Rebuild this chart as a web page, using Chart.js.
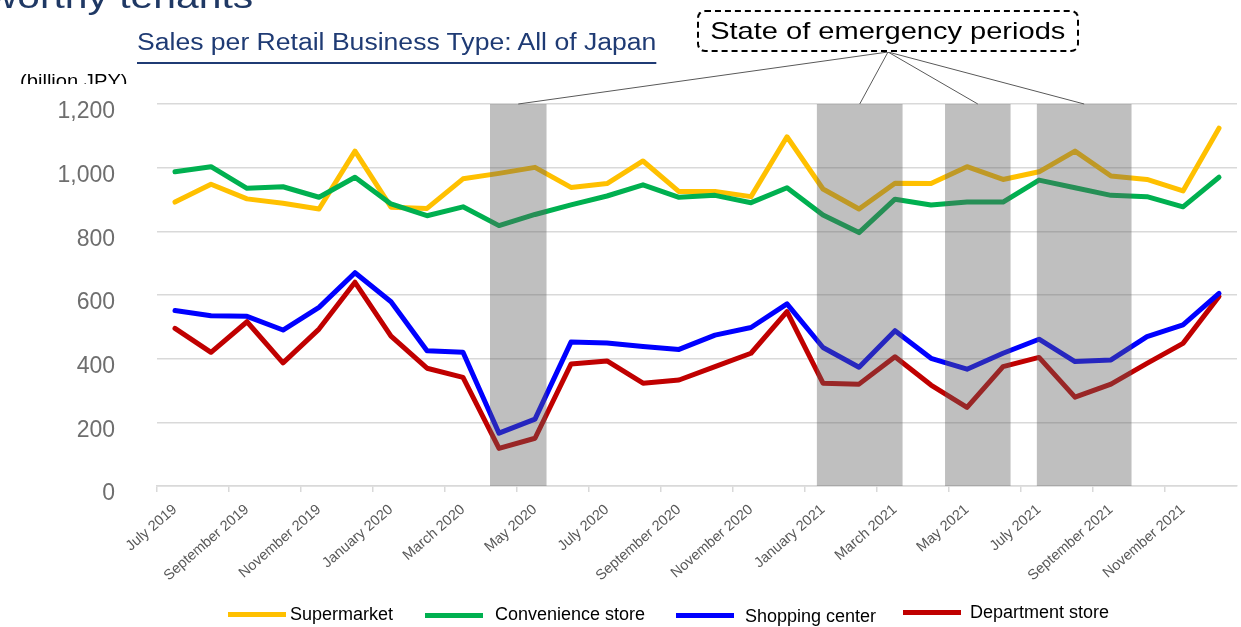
<!DOCTYPE html>
<html>
<head>
<meta charset="utf-8">
<script src="https://cdn.jsdelivr.net/npm/chart.js"></script>
<style>
  body { margin: 0; background: #fff; font-family: "Liberation Sans", Arial, sans-serif; }
  #wrap { position: relative; width: 1241px; height: 627px; overflow: hidden; }
  #chart { position: absolute; left: 0; top: 0; }
  .abs { position: absolute; white-space: nowrap; line-height: 1; }
  #heading { right: 988px; top: -21px; font-size: 34px; color: #1f3864; transform: scaleX(1.2); transform-origin: right top; }
  #title { left: 137px; top: 31px; font-size: 23px; color: #1f3b74; transform: scaleX(1.155); transform-origin: left top;
           text-decoration: underline; text-underline-offset: 12px; text-decoration-thickness: 1.5px; }
  #unitClip { position: absolute; left: 0; top: 60px; width: 160px; height: 24px; overflow: hidden; }
  #unit { left: 20px; top: 12px; font-size: 18px; color: #000; transform: scaleX(1.12); transform-origin: left top; }
  #callout { position: absolute; left: 697px; top: 10px; width: 382px; height: 42px; box-sizing: border-box;
             border: 2px dashed #000; border-radius: 8px; background: #fff;
             display: flex; align-items: center; justify-content: center; }
  #callout span { font-size: 24px; line-height: 1; transform: scaleX(1.21); display: inline-block; }
  .swatch { position: absolute; height: 5px; width: 58px; }
  .legtext { position: absolute; font-size: 18px; line-height: 1; color: #000; white-space: nowrap; }
</style>
</head>
<body>
<div id="wrap">
  <canvas id="chart" width="1241" height="627"></canvas>
  <div class="abs" id="heading">worthy tenants</div>
  <div class="abs" id="title">Sales per Retail Business Type: All of Japan</div>
  <div id="unitClip"><div class="abs" id="unit">(billion JPY)</div></div>
  <div id="callout"><span>State of emergency periods</span></div>

  <div class="swatch" style="left:228px;top:612px;background:#FFC000"></div>
  <div class="legtext" style="left:290px;top:605px">Supermarket</div>
  <div class="swatch" style="left:425px;top:613px;background:#00B050"></div>
  <div class="legtext" style="left:495px;top:605px">Convenience store</div>
  <div class="swatch" style="left:676px;top:613px;background:#0000FF"></div>
  <div class="legtext" style="left:745px;top:607px">Shopping center</div>
  <div class="swatch" style="left:903px;top:610px;background:#C00000"></div>
  <div class="legtext" style="left:970px;top:603px">Department store</div>
</div>

<script>
// monthly sales, billion JPY (July 2019 - December 2021)
const months = [
  'July 2019', 'August 2019', 'September 2019', 'October 2019', 'November 2019', 'December 2019',
  'January 2020', 'February 2020', 'March 2020', 'April 2020', 'May 2020', 'June 2020',
  'July 2020', 'August 2020', 'September 2020', 'October 2020', 'November 2020', 'December 2020',
  'January 2021', 'February 2021', 'March 2021', 'April 2021', 'May 2021', 'June 2021',
  'July 2021', 'August 2021', 'September 2021', 'October 2021', 'November 2021', 'December 2021'
];
const supermarket = [892, 948, 902, 888, 870, 1052, 876, 872, 965, 982, 1001, 938, 950, 1021, 925,
                     925, 909, 1097, 933, 870, 951, 950, 1003, 963, 987, 1052, 974, 963, 927, 1124];
const convenience = [987, 1003, 935, 940, 907, 970, 886, 849, 877, 818, 853, 883, 911, 946, 907,
                     913, 890, 937, 851, 796, 901, 883, 892, 892, 961, 937, 913, 909, 877, 970];
const shopping = [551, 535, 533, 490, 561, 670, 579, 425, 420, 166, 210, 452, 449, 438, 429,
                  474, 498, 572, 435, 373, 488, 401, 367, 417, 461, 391, 396, 469, 506, 605];
const department = [495, 420, 516, 387, 493, 640, 471, 370, 341, 118, 150, 383, 393, 323, 333,
                    375, 417, 548, 323, 320, 406, 317, 247, 375, 404, 279, 320, 385, 448, 595];

// state of emergency periods, in month-index units (0 = July 2019, fractions = part of the month)
const emergencyStart = [8.75, 17.83, 21.39, 23.94];
const emergencyEnd = [10.32, 20.21, 23.21, 26.57];

// where the callout's connector lines start (bottom of the dashed box)
const calloutAnchor = { x: 888, y: 52 };

// grey bands over the emergency months, plus the lines up to the callout
const emergencyShade = {
  id: 'emergencyShade',
  afterDatasetsDraw(chart) {
    const { ctx, chartArea, scales } = chart;
    const x = scales.x;
    ctx.save();
    ctx.fillStyle = 'rgba(96, 96, 96, 0.4)';
    for (let i = 0; i < emergencyStart.length; i++) {
      const x1 = x.getPixelForValue(emergencyStart[i]);
      const x2 = x.getPixelForValue(emergencyEnd[i]);
      ctx.fillRect(x1, chartArea.top, x2 - x1, chartArea.bottom - chartArea.top);
    }
    ctx.strokeStyle = '#595959';
    ctx.lineWidth = 1;
    for (let i = 0; i < emergencyStart.length; i++) {
      const mid = (x.getPixelForValue(emergencyStart[i]) + x.getPixelForValue(emergencyEnd[i])) / 2;
      ctx.beginPath();
      ctx.moveTo(calloutAnchor.x, calloutAnchor.y);
      ctx.lineTo(mid, chartArea.top);
      ctx.stroke();
    }
    ctx.restore();
  }
};

const ctx = document.getElementById('chart').getContext('2d');
new Chart(ctx, {
  type: 'line',
  data: {
    labels: months,
    datasets: [
      { label: 'Supermarket', data: supermarket, borderColor: '#FFC000', backgroundColor: '#FFC000', order: 2 },
      { label: 'Convenience store', data: convenience, borderColor: '#00B050', backgroundColor: '#00B050', order: 1 },
      { label: 'Shopping center', data: shopping, borderColor: '#0000FF', backgroundColor: '#0000FF', order: 3 },
      { label: 'Department store', data: department, borderColor: '#C00000', backgroundColor: '#C00000', order: 4 }
    ]
  },
  options: {
    responsive: false,
    animation: false,
    devicePixelRatio: 1,
    layout: { padding: { top: 104, right: 4, left: 0, bottom: 0 } },
    elements: {
      line: { borderWidth: 5, tension: 0, borderJoinStyle: 'round', borderCapStyle: 'round' },
      point: { radius: 0, hoverRadius: 0 }
    },
    plugins: {
      legend: { display: false },
      tooltip: { enabled: false }
    },
    scales: {
      x: {
        offset: true,
        grid: {
          offset: true,
          drawOnChartArea: false,
          tickLength: 6,
          lineWidth: 1.5,
          color: c => c.index % 2 === 0 ? '#d9d9d9' : 'rgba(0,0,0,0)'
        },
        border: { color: '#d9d9d9', width: 1.5 },
        ticks: {
          autoSkip: false,
          minRotation: 41,
          maxRotation: 41,
          padding: 9,
          color: '#595959',
          font: { family: 'Liberation Sans', size: 14.5 },
          callback: (v, i) => i % 2 === 0 ? months[i] : ''
        },
        afterFit: s => { s.height = 141; }
      },
      y: {
        min: 0,
        max: 1200,
        ticks: {
          stepSize: 200,
          padding: 42,
          labelOffset: 8,
          color: '#6e6e6e',
          font: { family: 'Liberation Sans', size: 23 }
        },
        grid: { color: '#d9d9d9', lineWidth: 1.5, drawTicks: false },
        border: { display: false },
        afterFit: s => { s.width = 157; }
      }
    }
  },
  plugins: [emergencyShade]
});
</script>
</body>
</html>
